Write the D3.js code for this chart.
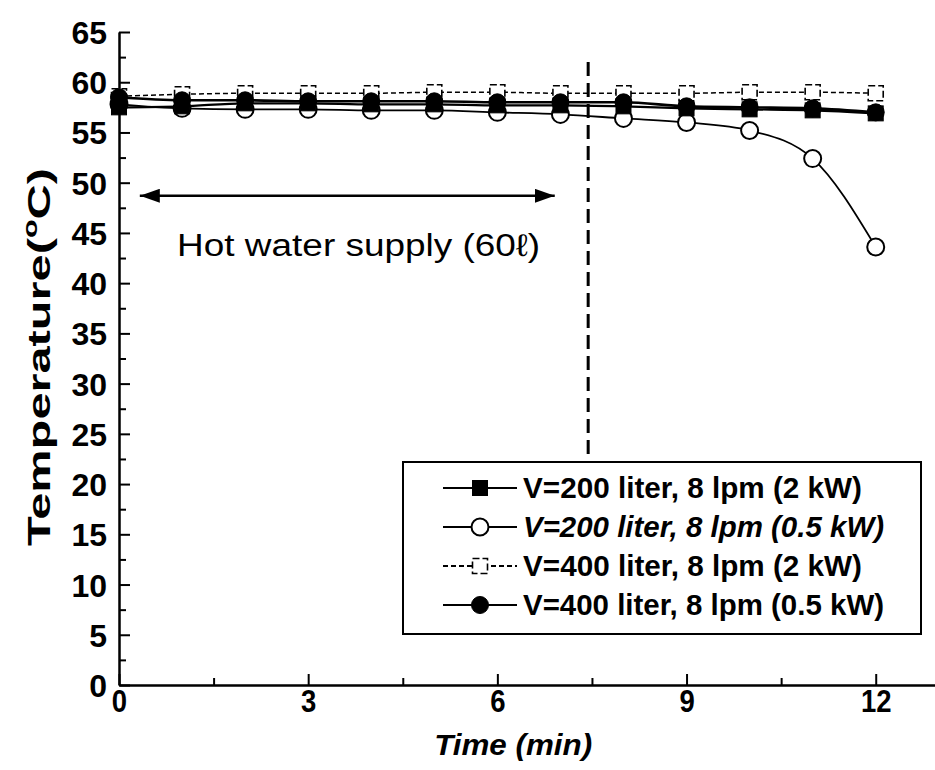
<!DOCTYPE html>
<html>
<head>
<meta charset="utf-8">
<script src="https://cdn.jsdelivr.net/npm/d3@7/dist/d3.min.js"></script>
<style>
  html, body { margin: 0; padding: 0; background: #fff; }
  svg { display: block; font-family: "Liberation Sans", Arial, sans-serif; }
</style>
</head>
<body>
<svg id="chart" width="935" height="770"></svg>
<script>
// Time axis (min) and temperature readings (°C) for each test case
const times = [0, 1, 2, 3, 4, 5, 6, 7, 8, 9, 10, 11, 12];
const v200_2kW   = [57.5, 57.6, 57.9, 57.9, 57.8, 57.8, 57.7, 57.7, 57.6, 57.4, 57.3, 57.2, 56.9];
const v200_05kW  = [57.8, 57.4, 57.3, 57.3, 57.2, 57.2, 57.0, 56.8, 56.4, 56.0, 55.2, 52.4, 43.6];
const v400_2kW   = [58.6, 58.8, 58.9, 58.9, 58.9, 59.0, 59.0, 58.9, 58.9, 58.9, 59.0, 59.0, 58.9];
const v400_05kW  = [58.5, 58.2, 58.2, 58.1, 58.1, 58.1, 58.0, 58.0, 58.0, 57.6, 57.5, 57.4, 57.0];

const seriesLabels = [
  "V=200 liter, 8 lpm (2 kW)",
  "V=200 liter, 8 lpm (0.5 kW)",
  "V=400 liter, 8 lpm (2 kW)",
  "V=400 liter, 8 lpm (0.5 kW)"
];
const xTicks = [0, 3, 6, 9, 12];
const xMinorTicks = [1.5, 4.5, 7.5, 10.5];
const yTicks = [0, 5, 10, 15, 20, 25, 30, 35, 40, 45, 50, 55, 60, 65];
const yMinorTicks = [2.5, 7.5, 12.5, 17.5, 22.5, 27.5, 32.5, 37.5, 42.5, 47.5, 52.5, 57.5, 62.5];

// Annotation: supply period and end-of-draw marker
const supplyStart = 0.33, supplyEnd = 6.91, supplyLevel = 48.7;
const supplyText = "Hot water supply (60ℓ)";
const drawEndTime = 7.44;

const svg = d3.select("#chart");
const x = d3.scaleLinear().domain([0, 12.94]).range([119, 935]);
const y = d3.scaleLinear().domain([0, 65]).range([685, 32]);

// Axes with inward ticks
const axG = svg.append("g");
const xAxis = d3.axisBottom(x).tickValues(xTicks).tickSize(-11).tickSizeOuter(0).tickFormat(d3.format("d")).tickPadding(4);
const xAxisMinor = d3.axisBottom(x).tickValues(xMinorTicks).tickSize(-7).tickSizeOuter(0).tickFormat("");
const yAxis = d3.axisLeft(y).tickValues(yTicks).tickSize(-11).tickSizeOuter(0).tickFormat(d3.format("d")).tickPadding(12);
const yAxisMinor = d3.axisLeft(y).tickValues(yMinorTicks).tickSize(-7).tickSizeOuter(0).tickFormat("");

function styleAxis(g) {
  g.selectAll("path, line").attr("stroke", "#000").attr("stroke-width", 2);
  g.selectAll("text").attr("fill", "#000").attr("font-weight", "bold").attr("font-size", 32).attr("font-family", "Liberation Sans, Arial, sans-serif");
}
axG.append("g").attr("transform", "translate(0,685)").call(xAxis).call(styleAxis)
  .selectAll("text").attr("y", 4).attr("dy", "0.71em").attr("transform", "scale(0.86,1)");
axG.append("g").attr("transform", "translate(0,685)").call(xAxisMinor).call(styleAxis);
axG.append("g").attr("transform", "translate(119,0)").call(yAxis).call(styleAxis)
  .selectAll("text").attr("dy", "0.36em");
axG.append("g").attr("transform", "translate(119,0)").call(yAxisMinor).call(styleAxis);

// Axis titles
svg.append("text")
  .attr("transform", `translate(${x(6.25)},755)`)
  .attr("text-anchor", "middle")
  .attr("font-weight", "bold").attr("font-style", "italic").attr("font-size", 29)
  .attr("textLength", 158).attr("lengthAdjust", "spacingAndGlyphs")
  .text("Time (min)");

const yTitle = svg.append("text")
  .attr("transform", "translate(50,357) rotate(-90)")
  .attr("text-anchor", "middle")
  .attr("font-weight", "bold").attr("font-size", 32)
  .attr("textLength", 378).attr("lengthAdjust", "spacingAndGlyphs");
yTitle.append("tspan").text("Temperature(");
yTitle.append("tspan").attr("font-size", 20).attr("dy", -13).text("o");
yTitle.append("tspan").attr("dy", 13).text("C)");

// Vertical dashed line marking the end of the supply
svg.append("line")
  .attr("x1", x(drawEndTime)).attr("x2", x(drawEndTime))
  .attr("y1", 62).attr("y2", 462)
  .attr("stroke", "#000").attr("stroke-width", 3)
  .attr("stroke-dasharray", "14,7");

// Double-headed arrow with label
svg.append("defs").selectAll("marker").data(["start", "end"]).join("marker")
  .attr("id", d => "arrow-" + d)
  .attr("viewBox", "0 0 20 14").attr("refX", d => d === "end" ? 20 : 0).attr("refY", 7)
  .attr("markerWidth", 20).attr("markerHeight", 14).attr("markerUnits", "userSpaceOnUse")
  .attr("orient", "auto")
  .append("path")
  .attr("d", d => d === "end" ? "M0,0 L20,7 L0,14 Z" : "M20,0 L0,7 L20,14 Z")
  .attr("fill", "#000");
svg.append("line")
  .attr("x1", x(supplyStart)).attr("x2", x(supplyEnd))
  .attr("y1", y(supplyLevel)).attr("y2", y(supplyLevel))
  .attr("stroke", "#000").attr("stroke-width", 2.5)
  .attr("marker-start", "url(#arrow-start)").attr("marker-end", "url(#arrow-end)");
svg.append("text")
  .attr("x", x(3.8)).attr("y", 256)
  .attr("text-anchor", "middle")
  .attr("font-size", 31)
  .attr("textLength", 363).attr("lengthAdjust", "spacingAndGlyphs")
  .text(supplyText);

// Series definitions (drawing order: back to front)
const series = [
  { key: 2, values: v400_2kW,  shape: "square", fill: "#fff", dash: "5,3", width: 1.5, mStroke: 1.6, mDash: "7,3" },
  { key: 1, values: v200_05kW, shape: "circle", fill: "#fff", dash: null,  width: 1.8, mStroke: 2,   mDash: null },
  { key: 0, values: v200_2kW,  shape: "square", fill: "#000", dash: null,  width: 2.2, mStroke: 1,   mDash: null },
  { key: 3, values: v400_05kW, shape: "circle", fill: "#000", dash: null,  width: 2.6, mStroke: 1,   mDash: null }
];

const line = d3.line().x(d => x(d[0])).y(d => y(d[1])).curve(d3.curveMonotoneX);

function drawMarker(g, s, cx, cy) {
  if (s.shape === "circle") {
    g.append("circle").attr("cx", cx).attr("cy", cy).attr("r", 8.5)
      .attr("fill", s.fill).attr("stroke", "#000").attr("stroke-width", s.mStroke);
  } else {
    g.append("rect").attr("x", cx - 7.5).attr("y", cy - 7.5).attr("width", 15).attr("height", 15)
      .attr("fill", s.fill).attr("stroke", "#000").attr("stroke-width", s.mStroke)
      .attr("stroke-dasharray", s.mDash);
  }
}

const plot = svg.append("g");
series.forEach(s => {
  const pts = times.map((t, i) => [t, s.values[i]]);
  plot.append("path").datum(pts).attr("d", line)
    .attr("fill", "none").attr("stroke", "#000").attr("stroke-width", s.width)
    .attr("stroke-dasharray", s.dash);
});
series.forEach(s => {
  const g = plot.append("g");
  times.forEach((t, i) => drawMarker(g, s, x(t), y(s.values[i])));
});

// Legend
const legend = svg.append("g");
legend.append("rect").attr("x", 403).attr("y", 462).attr("width", 518).attr("height", 172)
  .attr("fill", "#fff").attr("stroke", "#000").attr("stroke-width", 2);
const legendOrder = [0, 1, 2, 3];
const legendWidths = [339, 361, 339, 361];
legendOrder.forEach((k, i) => {
  const s = series.find(d => d.key === k);
  const cy = 488 + i * 39;
  const g = legend.append("g");
  g.append("line").attr("x1", 443).attr("x2", 517).attr("y1", cy).attr("y2", cy)
    .attr("stroke", "#000").attr("stroke-width", 1.8).attr("stroke-dasharray", s.dash);
  drawMarker(g, s, 480, cy);
  g.append("text").attr("x", 523).attr("y", cy + 10)
    .attr("font-weight", "bold").attr("font-size", 29)
    .attr("font-style", k === 1 ? "italic" : "normal")
    .attr("textLength", legendWidths[i]).attr("lengthAdjust", "spacingAndGlyphs")
    .text(seriesLabels[k]);
});
</script>
</body>
</html>
